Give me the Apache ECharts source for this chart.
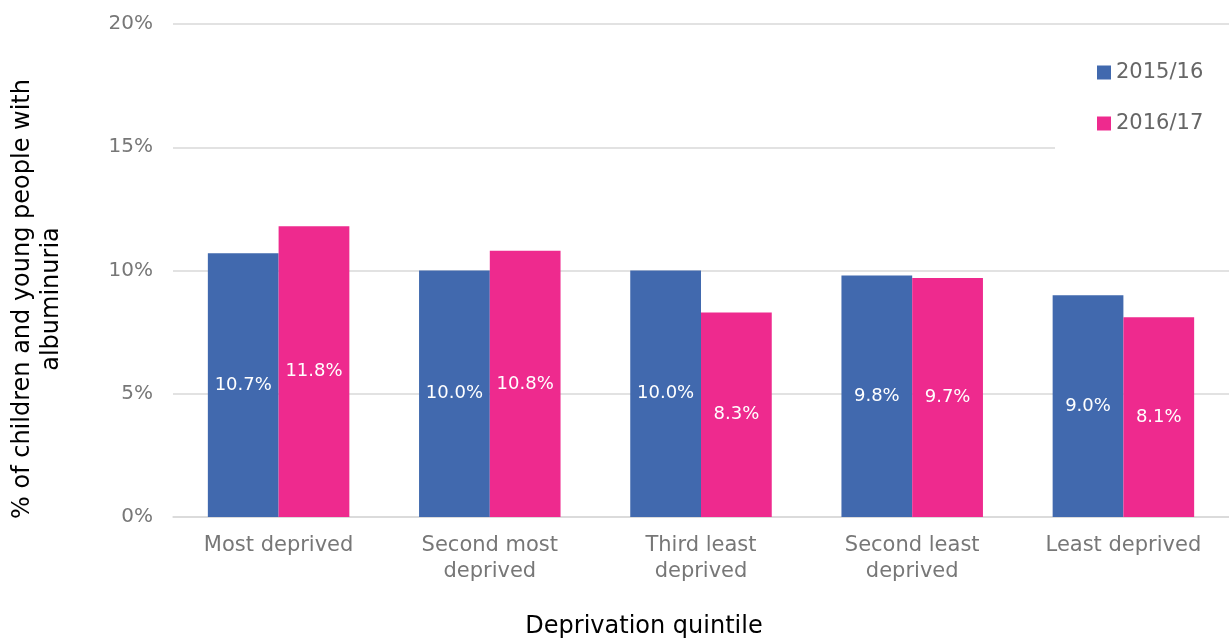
<!DOCTYPE html>
<html>
<head>
<meta charset="utf-8">
<script src="https://cdn.jsdelivr.net/npm/echarts@6/dist/echarts.min.js"></script>
<style>
  html, body { margin: 0; padding: 0; background: #fff; }
  #main { width: 1229px; height: 639px; }
</style>
</head>
<body>
<div id="main"></div>
<script>
  // data
  var quintiles = ['Most deprived', 'Second most\ndeprived', 'Third least\ndeprived', 'Second least\ndeprived', 'Least deprived'];
  var y2015 = [10.7, 10.0, 10.0, 9.8, 9.0];
  var y2016 = [11.8, 10.8, 8.3, 9.7, 8.1];
  var yTicks = [0, 5, 10, 15, 20];

  var font = 'DejaVu Sans';
  var chart = echarts.init(document.getElementById('main'));

  var barLabel = {
    show: true,
    position: 'inside',
    color: '#fff',
    fontFamily: font,
    fontSize: 18,
    formatter: function (p) { return p.value.toFixed(1) + '%'; }
  };

  chart.setOption({
    animation: false,
    textStyle: { fontFamily: font },
    grid: { left: 173, right: 0, top: 24, bottom: 122 },
    legend: {
      orient: 'vertical',
      left: 1055,
      top: 32,
      padding: [30, 30, 22, 42],
      backgroundColor: '#fff',
      itemWidth: 14,
      itemHeight: 14,
      itemGap: 30,
      icon: 'rect',
      textStyle: { color: '#666', fontSize: 21, fontFamily: font },
      data: ['2015/16', '2016/17']
    },
    xAxis: {
      type: 'category',
      data: quintiles,
      axisLine: { lineStyle: { color: '#d9d9d9', width: 1.5 } },
      axisTick: { show: false },
      axisLabel: { color: '#777', fontSize: 21, lineHeight: 26, margin: 16, fontFamily: font }
    },
    yAxis: {
      type: 'value',
      min: yTicks[0],
      max: yTicks[yTicks.length - 1],
      interval: 5,
      axisLine: { show: false },
      axisTick: { show: false },
      splitLine: { lineStyle: { color: '#d9d9d9', width: 1.5 } },
      axisLabel: { color: '#777', fontSize: 20, margin: 20, fontFamily: font, formatter: '{value}%' }
    },
    graphic: [
      {
        type: 'text',
        x: 37, y: 299,
        rotation: Math.PI / 2,
        style: {
          text: '% of children and young people with\nalbuminuria',
          fill: '#000',
          font: '24px ' + font,
          lineHeight: 29,
          align: 'center',
          verticalAlign: 'middle'
        }
      },
      {
        type: 'text',
        x: 644, y: 627,
        style: {
          text: 'Deprivation quintile',
          fill: '#000',
          font: '24px ' + font,
          align: 'center',
          verticalAlign: 'middle'
        }
      }
    ],
    series: [
      {
        name: '2015/16',
        type: 'bar',
        data: y2015,
        itemStyle: { color: '#4169AE' },
        barGap: '0%',
        barCategoryGap: '33%',
        label: barLabel
      },
      {
        name: '2016/17',
        type: 'bar',
        data: y2016,
        itemStyle: { color: '#EE2A8E' },
        label: barLabel
      }
    ]
  });
</script>
</body>
</html>
